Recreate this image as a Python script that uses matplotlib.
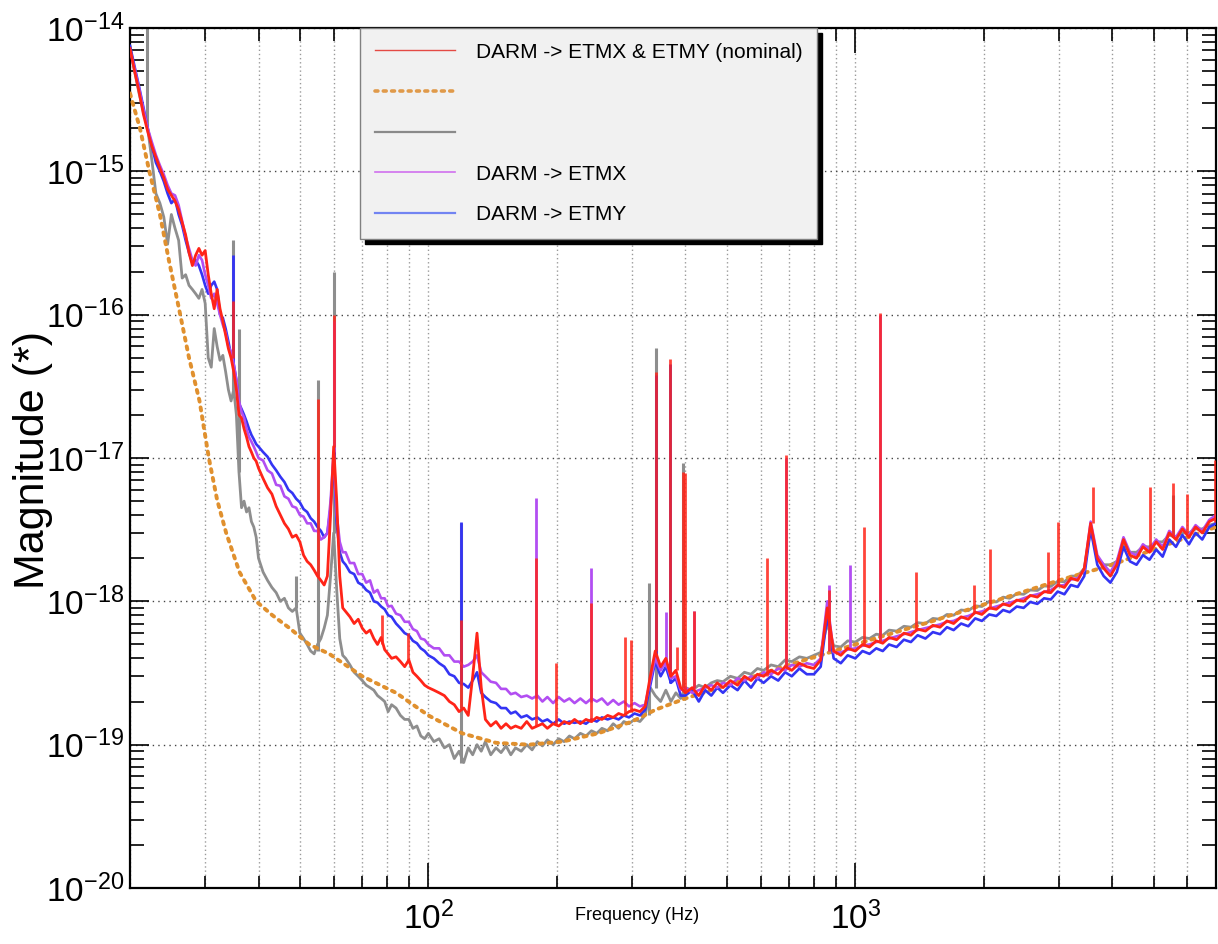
import matplotlib
matplotlib.use('Agg')
import matplotlib.pyplot as plt
from matplotlib.lines import Line2D
from matplotlib.ticker import FixedLocator, LogLocator, NullFormatter, FuncFormatter
import numpy as np

# ---- data ----
freq = [
    # 20-40 Hz
    20, 20.5, 21, 21.5, 22, 22.5, 23, 23.5, 24, 24.5,
    25, 25.5, 26, 26.5, 27, 27.5, 28, 28.5, 29, 29.5,
    30, 30.5, 31, 31.5, 32, 32.5, 33, 33.5, 34, 34.5,
    35, 35.5, 36, 36.5, 37, 37.5, 38, 38.5, 39, 39.5,
    # 40-100 Hz
    40, 41, 42, 43, 44, 45, 46, 47, 48, 49,
    50, 51, 52, 53, 54, 55, 56, 57, 58, 59,
    60, 61, 62, 63, 64, 65.5, 67, 68.5, 70, 71.5,
    73, 74.5, 76, 77.5, 79, 80.5, 82, 84, 86, 88,
    90, 92, 94, 96, 98,
    # 100-400 Hz
    100, 103, 106, 109, 112, 115, 118, 121, 124, 127,
    130, 133, 136, 140, 144, 148, 152, 156, 160, 165,
    170, 175, 180, 185, 190, 196, 202, 208, 214, 220,
    227, 234, 241, 248, 255, 263, 271, 279, 287, 295,
    304, 313, 322, 331, 340, 350, 360, 370, 380, 390,
    # 400-7000 Hz
    400, 415, 430, 445, 460, 475, 490, 510, 530, 550,
    570, 590, 610, 635, 660, 685, 710, 740, 770, 800,
    830, 860, 890, 925, 960, 1000, 1040, 1080, 1120, 1160,
    1200, 1250, 1300, 1350, 1400, 1460, 1520, 1580, 1640, 1700,
    1770, 1840, 1910, 1980, 2060, 2140, 2220, 2300, 2390, 2480,
    2570, 2670, 2770, 2870, 2980, 3090, 3200, 3320, 3440, 3560,
    3690, 3820, 3960, 4100, 4250, 4400, 4560, 4720, 4890, 5070,
    5250, 5440, 5640, 5840, 6050, 6270, 6500, 6750, 7000,
]

red_mag = [
    7.2e-15, 5.0e-15, 3.6e-15, 2.5e-15, 1.9e-15, 1.5e-15, 1.25e-15, 1.05e-15, 9.0e-16, 7.5e-16,
    6.8e-16, 6.2e-16, 5.4e-16, 4.4e-16, 3.6e-16, 2.7e-16, 2.2e-16, 2.6e-16, 2.9e-16, 2.6e-16,
    2.8e-16, 1.9e-16, 1.4e-16, 1.1e-16, 1.5e-16, 1.1e-16, 9.0e-17, 7.2e-17, 5.8e-17, 5.0e-17,
    4.0e-17, 3.0e-17, 2.0e-17, 1.9e-17, 1.6e-17, 1.4e-17, 1.2e-17, 1.1e-17, 1.0e-17, 9.5e-18,
    8.5e-18, 7.2e-18, 6.2e-18, 5.6e-18, 4.6e-18, 4.0e-18, 3.5e-18, 3.2e-18, 2.8e-18, 2.9e-18,
    2.6e-18, 2.1e-18, 1.9e-18, 1.8e-18, 1.65e-18, 1.5e-18, 1.4e-18, 1.3e-18, 1.5e-18, 4.0e-18,
    1.2e-17, 5.0e-18, 1.5e-18, 9.0e-19, 8.5e-19, 7.8e-19, 7.0e-19, 7.5e-19, 6.5e-19, 6.0e-19,
    6.3e-19, 5.5e-19, 5.0e-19, 5.6e-19, 4.6e-19, 4.3e-19, 4.0e-19, 4.1e-19, 3.8e-19, 3.5e-19,
    3.9e-19, 3.2e-19, 3.0e-19, 2.8e-19, 2.6e-19,
    2.5e-19, 2.4e-19, 2.3e-19, 2.2e-19, 2.0e-19, 1.9e-19, 1.7e-19, 1.8e-19, 1.6e-19, 3.0e-19,
    6.0e-19, 2.5e-19, 1.5e-19, 1.35e-19, 1.45e-19, 1.3e-19, 1.4e-19, 1.3e-19, 1.35e-19, 1.3e-19,
    1.45e-19, 1.3e-19, 1.35e-19, 1.4e-19, 1.3e-19, 1.4e-19, 1.35e-19, 1.45e-19, 1.4e-19, 1.5e-19,
    1.4e-19, 1.5e-19, 1.45e-19, 1.55e-19, 1.5e-19, 1.6e-19, 1.55e-19, 1.65e-19, 1.6e-19, 1.7e-19,
    1.75e-19, 1.7e-19, 1.85e-19, 3.0e-19, 4.5e-19, 3.5e-19, 4.0e-19, 3.0e-19, 3.3e-19, 2.5e-19,
    2.3e-19, 2.5e-19, 2.2e-19, 2.6e-19, 2.4e-19, 2.7e-19, 2.5e-19, 2.8e-19, 2.6e-19, 3.0e-19,
    2.8e-19, 3.1e-19, 3.0e-19, 3.3e-19, 3.1e-19, 3.5e-19, 3.3e-19, 3.7e-19, 3.5e-19, 3.4e-19,
    3.9e-19, 9.0e-19, 4.5e-19, 4.2e-19, 4.7e-19, 4.5e-19, 5.0e-19, 4.8e-19, 5.3e-19, 5.1e-19,
    5.6e-19, 5.4e-19, 6.0e-19, 5.8e-19, 6.4e-19, 6.2e-19, 6.8e-19, 6.6e-19, 7.3e-19, 7.0e-19,
    7.8e-19, 7.5e-19, 8.4e-19, 8.1e-19, 9.0e-19, 8.8e-19, 9.6e-19, 9.3e-19, 1.02e-18, 1.0e-18,
    1.1e-18, 1.07e-18, 1.17e-18, 1.15e-18, 1.3e-18, 1.25e-18, 1.45e-18, 1.4e-18, 1.7e-18, 3.5e-18,
    2.0e-18, 1.7e-18, 1.5e-18, 1.8e-18, 2.7e-18, 2.1e-18, 2.0e-18, 2.4e-18, 2.2e-18, 2.6e-18,
    2.3e-18, 3.0e-18, 2.7e-18, 3.2e-18, 2.8e-18, 3.3e-18, 3.0e-18, 3.6e-18, 3.8e-18,
]

violet_mag = [
    7.0e-15, 5.2e-15, 3.8e-15, 2.7e-15, 2.0e-15, 1.6e-15, 1.3e-15, 1.1e-15, 9.5e-16, 8.0e-16,
    7.0e-16, 6.8e-16, 5.8e-16, 4.5e-16, 3.5e-16, 2.9e-16, 2.4e-16, 2.2e-16, 2.6e-16, 2.4e-16,
    1.9e-16, 1.6e-16, 1.3e-16, 1.4e-16, 1.2e-16, 1.0e-16, 8.5e-17, 7.5e-17, 6.0e-17, 5.5e-17,
    4.5e-17, 3.5e-17, 2.5e-17, 2.1e-17, 1.9e-17, 1.6e-17, 1.4e-17, 1.3e-17, 1.2e-17, 1.1e-17,
    1.0e-17, 9.6e-18, 8.2e-18, 7.8e-18, 6.5e-18, 6.4e-18, 5.4e-18, 5.2e-18, 4.6e-18, 4.5e-18,
    4.0e-18, 3.9e-18, 3.5e-18, 3.5e-18, 3.1e-18, 3.1e-18, 2.7e-18, 2.8e-18, 3.0e-18, 5.0e-18,
    1.1e-17, 4.0e-18, 2.6e-18, 2.2e-18, 2.2e-18, 1.85e-18, 1.85e-18, 1.55e-18, 1.55e-18, 1.35e-18,
    1.4e-18, 1.15e-18, 1.2e-18, 1.05e-18, 1.05e-18, 9.2e-19, 9.3e-19, 8.2e-19, 8.0e-19, 7.2e-19,
    7.2e-19, 6.4e-19, 6.2e-19, 5.5e-19, 5.4e-19,
    5.0e-19, 4.7e-19, 4.7e-19, 4.2e-19, 4.2e-19, 3.8e-19, 3.8e-19, 3.5e-19, 3.6e-19, 3.8e-19,
    4.2e-19, 3.2e-19, 3.0e-19, 2.75e-19, 2.7e-19, 2.45e-19, 2.45e-19, 2.25e-19, 2.3e-19, 2.15e-19,
    2.2e-19, 2.1e-19, 2.2e-19, 2.0e-19, 2.15e-19, 1.95e-19, 2.15e-19, 2.0e-19, 2.1e-19, 1.95e-19,
    2.1e-19, 1.95e-19, 2.1e-19, 2.0e-19, 2.1e-19, 1.9e-19, 2.05e-19, 1.9e-19, 2.0e-19, 1.85e-19,
    1.95e-19, 1.85e-19, 1.9e-19, 2.8e-19, 4.0e-19, 3.3e-19, 3.8e-19, 2.9e-19, 3.0e-19, 2.4e-19,
    2.5e-19, 2.3e-19, 2.4e-19, 2.5e-19, 2.6e-19, 2.5e-19, 2.7e-19, 2.6e-19, 2.9e-19, 2.8e-19,
    3.0e-19, 2.9e-19, 3.2e-19, 3.1e-19, 3.4e-19, 3.3e-19, 3.6e-19, 3.5e-19, 3.7e-19, 3.6e-19,
    4.0e-19, 1.0e-18, 4.4e-19, 4.4e-19, 4.6e-19, 4.7e-19, 4.9e-19, 5.0e-19, 5.2e-19, 5.3e-19,
    5.5e-19, 5.7e-19, 5.9e-19, 6.1e-19, 6.3e-19, 6.5e-19, 6.7e-19, 6.9e-19, 7.2e-19, 7.3e-19,
    7.7e-19, 7.9e-19, 8.3e-19, 8.5e-19, 8.9e-19, 9.2e-19, 9.5e-19, 9.8e-19, 1.01e-18, 1.05e-18,
    1.09e-18, 1.12e-18, 1.16e-18, 1.2e-18, 1.28e-18, 1.3e-18, 1.42e-18, 1.45e-18, 1.65e-18, 3.6e-18,
    2.1e-18, 1.8e-18, 1.6e-18, 1.9e-18, 2.8e-18, 2.2e-18, 2.1e-18, 2.5e-18, 2.3e-18, 2.7e-18,
    2.4e-18, 3.1e-18, 2.8e-18, 3.3e-18, 2.9e-18, 3.4e-18, 3.1e-18, 3.7e-18, 4.0e-18,
]

blue_mag = [
    7.5e-15, 5.4e-15, 3.9e-15, 2.8e-15, 2.0e-15, 1.5e-15, 1.15e-15, 1.0e-15, 8.5e-16, 7.0e-16,
    6.0e-16, 6.4e-16, 5.0e-16, 4.2e-16, 3.3e-16, 2.7e-16, 2.3e-16, 2.4e-16, 2.2e-16, 1.9e-16,
    1.6e-16, 1.4e-16, 1.6e-16, 1.7e-16, 1.5e-16, 1.0e-16, 9.5e-17, 8.0e-17, 6.5e-17, 5.2e-17,
    4.5e-17, 3.5e-17, 2.4e-17, 2.2e-17, 2.0e-17, 1.8e-17, 1.6e-17, 1.45e-17, 1.35e-17, 1.25e-17,
    1.2e-17, 1.1e-17, 1.02e-17, 9.0e-18, 8.2e-18, 7.4e-18, 6.8e-18, 6.0e-18, 5.7e-18, 5.2e-18,
    4.9e-18, 4.4e-18, 4.2e-18, 3.8e-18, 3.6e-18, 3.3e-18, 3.1e-18, 2.8e-18, 3.0e-18, 4.5e-18,
    1.0e-17, 3.5e-18, 2.2e-18, 1.9e-18, 1.8e-18, 1.6e-18, 1.55e-18, 1.35e-18, 1.3e-18, 1.2e-18,
    1.15e-18, 1.0e-18, 9.8e-19, 9.2e-19, 8.8e-19, 8.0e-19, 7.8e-19, 7.0e-19, 6.5e-19, 6.0e-19,
    5.8e-19, 5.3e-19, 5.1e-19, 4.7e-19, 4.5e-19,
    4.2e-19, 4.0e-19, 3.7e-19, 3.5e-19, 3.1e-19, 3.0e-19, 2.7e-19, 2.65e-19, 2.5e-19, 2.8e-19,
    3.2e-19, 2.3e-19, 2.15e-19, 2.0e-19, 1.95e-19, 1.8e-19, 1.8e-19, 1.65e-19, 1.7e-19, 1.55e-19,
    1.6e-19, 1.5e-19, 1.55e-19, 1.45e-19, 1.5e-19, 1.4e-19, 1.5e-19, 1.4e-19, 1.45e-19, 1.42e-19,
    1.45e-19, 1.4e-19, 1.5e-19, 1.45e-19, 1.55e-19, 1.5e-19, 1.55e-19, 1.5e-19, 1.6e-19, 1.55e-19,
    1.65e-19, 1.6e-19, 1.75e-19, 2.6e-19, 3.8e-19, 3.0e-19, 3.5e-19, 2.7e-19, 2.9e-19, 2.2e-19,
    2.2e-19, 2.4e-19, 2.0e-19, 2.4e-19, 2.2e-19, 2.5e-19, 2.3e-19, 2.6e-19, 2.4e-19, 2.8e-19,
    2.5e-19, 2.9e-19, 2.7e-19, 3.0e-19, 2.8e-19, 3.2e-19, 3.0e-19, 3.4e-19, 3.1e-19, 3.1e-19,
    3.5e-19, 8.0e-19, 4.0e-19, 3.7e-19, 4.2e-19, 4.0e-19, 4.5e-19, 4.3e-19, 4.7e-19, 4.5e-19,
    5.0e-19, 4.8e-19, 5.4e-19, 5.2e-19, 5.8e-19, 5.5e-19, 6.1e-19, 5.9e-19, 6.6e-19, 6.3e-19,
    7.0e-19, 6.7e-19, 7.6e-19, 7.3e-19, 8.1e-19, 7.9e-19, 8.7e-19, 8.4e-19, 9.2e-19, 9.0e-19,
    9.9e-19, 9.6e-19, 1.05e-18, 1.03e-18, 1.17e-18, 1.12e-18, 1.3e-18, 1.26e-18, 1.5e-18, 3.2e-18,
    1.8e-18, 1.5e-18, 1.35e-18, 1.6e-18, 2.4e-18, 1.9e-18, 1.8e-18, 2.1e-18, 1.95e-18, 2.3e-18,
    2.05e-18, 2.7e-18, 2.4e-18, 2.9e-18, 2.5e-18, 3.0e-18, 2.7e-18, 3.3e-18, 3.5e-18,
]

gray_mag = [
    7.4e-15, 5.0e-15, 3.5e-15, 2.6e-15, 2.0e-15, 1.2e-15, 7.0e-16, 6.0e-16, 4.8e-16, 3.1e-16,
    5.0e-16, 4.0e-16, 3.3e-16, 1.8e-16, 1.9e-16, 1.6e-16, 1.5e-16, 1.4e-16, 1.3e-16, 1.5e-16,
    1.2e-16, 5.0e-17, 4.3e-17, 8.0e-17, 6.0e-17, 4.8e-17, 5.2e-17, 4.0e-17, 3.0e-17, 2.5e-17,
    3.0e-17, 2.0e-17, 8.0e-18, 4.5e-18, 5.0e-18, 4.2e-18, 4.5e-18, 3.6e-18, 3.3e-18, 2.8e-18,
    2.0e-18, 1.6e-18, 1.4e-18, 1.25e-18, 1.15e-18, 1.0e-18, 1.05e-18, 9.0e-19, 8.5e-19, 9.0e-19,
    6.0e-19, 5.5e-19, 5.0e-19, 4.5e-19, 4.3e-19, 5.0e-19, 5.5e-19, 6.5e-19, 8.0e-19, 1.5e-18,
    3.0e-18, 1.2e-18, 5.5e-19, 4.2e-19, 4.0e-19, 3.6e-19, 3.2e-19, 3.0e-19, 2.8e-19, 2.6e-19,
    2.5e-19, 2.4e-19, 2.2e-19, 2.1e-19, 2.0e-19, 1.7e-19, 1.9e-19, 1.8e-19, 1.6e-19, 1.5e-19,
    1.5e-19, 1.3e-19, 1.35e-19, 1.15e-19, 1.1e-19,
    1.2e-19, 1.05e-19, 1.1e-19, 9.5e-20, 1.0e-19, 8.0e-20, 9.0e-20, 7.5e-20, 9.5e-20, 8.5e-20,
    1.0e-19, 9.0e-20, 1.05e-19, 8.5e-20, 9.5e-20, 8.8e-20, 9.8e-20, 8.5e-20, 9.5e-20, 9.0e-20,
    1.0e-19, 9.2e-20, 1.05e-19, 9.8e-20, 1.08e-19, 1.0e-19, 1.1e-19, 1.05e-19, 1.15e-19, 1.1e-19,
    1.2e-19, 1.15e-19, 1.25e-19, 1.2e-19, 1.3e-19, 1.25e-19, 1.4e-19, 1.3e-19, 1.45e-19, 1.4e-19,
    1.5e-19, 1.45e-19, 1.6e-19, 2.5e-19, 2.2e-19, 2.0e-19, 2.4e-19, 2.0e-19, 2.3e-19, 2.1e-19,
    2.5e-19, 2.4e-19, 2.6e-19, 2.5e-19, 2.7e-19, 2.8e-19, 2.75e-19, 3.0e-19, 2.9e-19, 3.2e-19,
    3.1e-19, 3.4e-19, 3.3e-19, 3.6e-19, 3.5e-19, 3.9e-19, 3.8e-19, 4.1e-19, 4.0e-19, 4.2e-19,
    4.4e-19, 7.0e-19, 4.9e-19, 4.8e-19, 5.3e-19, 5.2e-19, 5.6e-19, 5.5e-19, 5.9e-19, 5.8e-19,
    6.3e-19, 6.2e-19, 6.7e-19, 6.6e-19, 7.1e-19, 7.0e-19, 7.6e-19, 7.5e-19, 8.1e-19, 8.0e-19,
    8.7e-19, 8.6e-19, 9.3e-19, 9.2e-19, 1.0e-18, 9.9e-19, 1.07e-18, 1.05e-18, 1.13e-18, 1.12e-18,
    1.2e-18, 1.19e-18, 1.28e-18, 1.27e-18, 1.38e-18, 1.37e-18, 1.5e-18, 1.5e-18, 1.7e-18, 3.2e-18,
    2.0e-18, 1.8e-18, 1.8e-18, 1.9e-18, 2.5e-18, 2.2e-18, 2.2e-18, 2.4e-18, 2.4e-18, 2.6e-18,
    2.6e-18, 2.9e-18, 2.8e-18, 3.0e-18, 3.0e-18, 3.2e-18, 3.2e-18, 3.4e-18, 3.5e-18,
]

# narrow lines (frequency, floor, peak)
red_spike_f = [34.8, 55.0, 60.0, 78.0, 89.5, 119.5, 179, 199, 240, 289, 299, 342, 369, 383, 395, 400,
               420, 620, 690, 870, 1050, 1140, 1390, 1900, 2070, 2830, 2980, 3600, 4900, 5550, 6000, 6950]
red_spike_lo = [5.0e-17, 1.5e-18, 1.2e-17, 5.0e-19, 3.9e-19, 1.8e-19, 1.35e-19, 1.4e-19, 1.45e-19, 1.6e-19,
                1.7e-19, 4.5e-19, 3.0e-19, 3.3e-19, 2.5e-19, 2.3e-19, 2.5e-19, 3.0e-19, 3.5e-19, 4.5e-19,
                5.0e-19, 5.3e-19, 6.4e-19, 8.4e-19, 9.0e-19, 1.15e-18, 1.3e-18, 3.5e-18, 2.2e-18, 2.8e-18,
                3.0e-18, 3.6e-18]
red_spike_hi = [1.25e-16, 2.6e-17, 1.0e-16, 8.0e-19, 6.0e-19, 7.4e-19, 2.0e-18, 3.7e-19, 9.7e-19, 5.6e-19,
                5.4e-19, 4.0e-17, 4.9e-17, 4.8e-19, 8.0e-18, 7.8e-18, 8.6e-19, 2.0e-18, 1.05e-17, 1.2e-18,
                3.3e-18, 1.03e-16, 1.6e-18, 1.3e-18, 2.3e-18, 2.2e-18, 3.6e-18, 6.3e-18, 6.3e-18, 6.7e-18,
                5.6e-18, 9.7e-18]

violet_spike_f = [60.0, 179, 240, 361, 420, 690, 870, 970, 1140]
violet_spike_lo = [1.1e-17, 2.1e-19, 2.0e-19, 3.5e-19, 2.5e-19, 3.5e-19, 4.5e-19, 4.7e-19, 5.3e-19]
violet_spike_hi = [9.0e-17, 5.3e-18, 1.7e-18, 8.4e-19, 8.6e-19, 1.0e-17, 1.3e-18, 1.8e-18, 1.0e-16]

blue_spike_f = [34.8, 60.0, 119.5, 342, 369]
blue_spike_lo = [4.5e-17, 1.0e-17, 2.6e-19, 3.8e-19, 2.7e-19]
blue_spike_hi = [2.6e-16, 8.0e-17, 3.6e-18, 3.8e-17, 4.5e-17]

gray_spike_f = [21.9, 34.8, 36.0, 49.0, 55.0, 60.0, 119.5, 328, 342, 395, 5550]
gray_spike_lo = [2.0e-15, 3.0e-17, 8.0e-18, 9.0e-19, 4.5e-19, 3.0e-18, 7.5e-20, 1.6e-19, 2.5e-19, 2.1e-19, 2.8e-18]
gray_spike_hi = [1.0e-14, 3.3e-16, 8.0e-17, 1.5e-18, 3.5e-17, 2.0e-16, 3.5e-18, 1.35e-18, 5.9e-17, 9.2e-18, 5.5e-18]

model_freq = [20.0, 21.1, 22.2, 23.5, 24.7, 26.1, 27.5, 29.1, 30.6, 32.0,
              33.6, 36.1, 39.5, 43.1, 47.3, 52.6, 58.6, 70, 84, 100,
              120, 144, 172, 206, 250, 300, 340, 400, 500, 700,
              1000, 1500, 2000, 3000, 4000, 5000, 7000]
model_mag = [3.5e-15, 2.0e-15, 1.0e-15, 5.0e-16, 2.35e-16, 1.07e-16, 5.0e-17, 2.5e-17, 1.0e-17, 5.1e-18,
             3.0e-18, 1.6e-18, 1.0e-18, 8.0e-19, 6.5e-19, 5.0e-19, 4.3e-19, 3.0e-19, 2.3e-19, 1.6e-19,
             1.2e-19, 1.03e-19, 1.0e-19, 1.05e-19, 1.2e-19, 1.45e-19, 1.75e-19, 2.1e-19, 2.6e-19, 3.6e-19,
             5.0e-19, 7.2e-19, 9.5e-19, 1.4e-18, 1.8e-18, 2.3e-18, 3.3e-18]

x_major = [100, 1000]
y_major = [1e-20, 1e-19, 1e-18, 1e-17, 1e-16, 1e-15, 1e-14]
legend_labels = ['DARM -> ETMX & ETMY (nominal)', ' ', ' ', 'DARM -> ETMX', 'DARM -> ETMY']

# ---- style ----
plt.rcParams['font.family'] = ['Liberation Sans', 'DejaVu Sans']
plt.rcParams['mathtext.default'] = 'regular'

RED = '#ff2418'
VIOLET = '#b24ef2'
BLUE = '#3434f4'
GRAY = '#8e8e8e'
ORANGE = '#e0902e'

fig = plt.figure(figsize=(12.18, 9.44), dpi=100, facecolor='white')
ax = fig.add_axes([130 / 1218, 56 / 944, 1086 / 1218, 860 / 944])
ax.set_xscale('log')
ax.set_yscale('log')

ax.plot(freq, gray_mag, color=GRAY, lw=2.0, zorder=2)
ax.vlines(gray_spike_f, gray_spike_lo, gray_spike_hi, colors=GRAY, lw=2.2, zorder=2)
ax.plot(model_freq, model_mag, color=ORANGE, lw=2.8, ls=(0, (0.8, 1.5)),
        dash_capstyle='round', zorder=3)
ax.plot(freq, blue_mag, color=BLUE, lw=1.9, zorder=4)
ax.vlines(blue_spike_f, blue_spike_lo, blue_spike_hi, colors=BLUE, lw=2.0, zorder=4)
ax.plot(freq, violet_mag, color=VIOLET, lw=1.9, zorder=5)
ax.vlines(violet_spike_f, violet_spike_lo, violet_spike_hi, colors=VIOLET, lw=2.0, zorder=5)
ax.plot(freq, red_mag, color=RED, lw=2.0, zorder=6)
ax.vlines(red_spike_f, red_spike_lo, red_spike_hi, colors=RED, lw=2.0, alpha=0.85, zorder=6)

ax.set_xlim(20, 7000)
ax.set_ylim(1e-20, 1e-14)

# ticks
fmt = FuncFormatter(lambda v, p: r'$10^{%d}$' % int(round(np.log10(v))))
ax.xaxis.set_major_locator(FixedLocator(x_major))
ax.xaxis.set_major_formatter(fmt)
ax.xaxis.set_minor_locator(LogLocator(base=10, subs=range(2, 10), numticks=20))
ax.xaxis.set_minor_formatter(NullFormatter())
ax.yaxis.set_major_locator(FixedLocator(y_major))
ax.yaxis.set_major_formatter(fmt)
ax.yaxis.set_minor_locator(LogLocator(base=10, subs=range(2, 10), numticks=12))
ax.yaxis.set_minor_formatter(NullFormatter())

ax.tick_params(which='both', direction='in', top=True, right=True, width=1.2, colors='black')
ax.tick_params(axis='x', which='major', length=18, labelsize=24, pad=10)
ax.tick_params(axis='x', which='minor', length=9)
ax.tick_params(axis='y', which='major', length=14, labelsize=24, pad=4)
ax.tick_params(axis='y', which='minor', length=10)

ax.grid(axis='x', which='both', color='#9a9a9a', ls=(0, (1, 2)), lw=1.0)
ax.grid(axis='y', which='major', color='#444444', ls=(0, (1, 3)), lw=1.0)

for s in ax.spines.values():
    s.set_linewidth(1.6)
    s.set_color('black')

fig.text(637 / 1218, 1 - 916 / 944, 'Frequency (Hz)', fontsize=13, ha='center', va='center')
fig.text(33 / 1218, 1 - 460 / 944, 'Magnitude (*)', fontsize=31, rotation=90,
         ha='center', va='center')

# legend
handles = [
    Line2D([], [], color='#e44a44', lw=1.0),
    Line2D([], [], color='#e09a4a', lw=2.6, ls=(0, (0.8, 1.5)), dash_capstyle='round'),
    Line2D([], [], color='#8a8a8a', lw=1.6),
    Line2D([], [], color='#d070ee', lw=1.2),
    Line2D([], [], color='#7284f2', lw=1.6),
]
leg = ax.legend(handles, legend_labels, loc='upper left',
                bbox_to_anchor=((360 - 130) / 1086, 1.0), borderaxespad=0,
                fontsize=15, handlelength=3.85, handletextpad=1.0,
                labelspacing=1.04, borderpad=0.7, fancybox=False,
                framealpha=1, facecolor='#f1f1f1', edgecolor='#808080',
                shadow={'ox': 3.6, 'oy': -3.6, 'color': 'black', 'alpha': 1.0})
leg.get_frame().set_linewidth(1.0)
leg.set_zorder(10)

fig.savefig('out.png', dpi=100, facecolor='white')
